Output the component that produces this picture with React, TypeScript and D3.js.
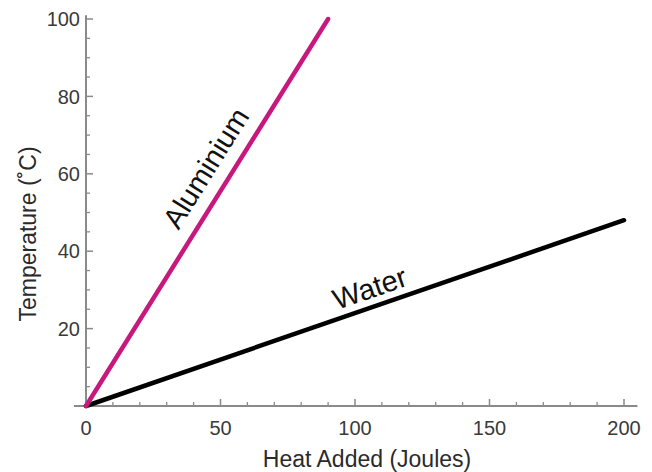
import React from "react";
import * as d3 from "d3";

const W = 652;
const H = 472;

// Data
const aluminiumX = [0, 90];
const aluminiumY = [0, 100];
const waterX = [0, 200];
const waterY = [0, 48];
const xMajorTicks = [0, 50, 100, 150, 200];
const xMinorTicks = [10, 20, 30, 40, 60, 70, 80, 90, 110, 120, 130, 140, 160, 170, 180, 190];
const yMajorTicks = [20, 40, 60, 80, 100];
const yMinorTicks = [5, 10, 15, 25, 30, 35, 45, 50, 55, 65, 70, 75, 85, 90, 95];
const xTitle = "Heat Added (Joules)";
const yTitle = "Temperature (˚C)";

const FONT = "'Liberation Sans', Arial, Helvetica, sans-serif";

export default function App() {
  const x = d3.scaleLinear().domain([0, 200]).range([86, 624]);
  const y = d3.scaleLinear().domain([0, 100]).range([406, 19]);
  const axisColor = "#8a8a8a";
  const tickText = "#3a3a3a";

  const line = d3
    .line<[number, number]>()
    .x((d) => x(d[0]))
    .y((d) => y(d[1]));

  const alData: [number, number][] = aluminiumX.map((v, i) => [v, aluminiumY[i]]);
  const waData: [number, number][] = waterX.map((v, i) => [v, waterY[i]]);

  const angle = (xs: number[], ys: number[]) =>
    (Math.atan2(y(ys[1]) - y(ys[0]), x(xs[1]) - x(xs[0])) * 180) / Math.PI;

  const alAngle = angle(aluminiumX, aluminiumY);
  const waAngle = angle(waterX, waterY);

  const alLabel = { x: x(44.5), y: y(61.5) };
  const waLabel = { x: x(105.5), y: y(30.5) };

  return (
    <svg
      width={W}
      height={H}
      style={{ position: "absolute", left: 0, top: 0, background: "#fff" }}
      fontFamily={FONT}
    >
      {/* axes */}
      <line x1={x(-4.5)} x2={x(205)} y1={y(0)} y2={y(0)} stroke={axisColor} strokeWidth={2} />
      <line x1={x(0)} x2={x(0)} y1={y(0)} y2={y(101)} stroke={axisColor} strokeWidth={2} />
      {xMinorTicks.map((t) => (
        <line key={"xm" + t} x1={x(t)} x2={x(t)} y1={y(0)} y2={y(0) - 4} stroke={axisColor} strokeWidth={1.3} />
      ))}
      {xMajorTicks.map((t) => (
        <line key={"xM" + t} x1={x(t)} x2={x(t)} y1={y(0)} y2={y(0) - 7} stroke={axisColor} strokeWidth={1.5} />
      ))}
      {yMinorTicks.map((t) => (
        <line key={"ym" + t} x1={x(0)} x2={x(0) + 4} y1={y(t)} y2={y(t)} stroke={axisColor} strokeWidth={1.3} />
      ))}
      {yMajorTicks.map((t) => (
        <line key={"yM" + t} x1={x(0)} x2={x(0) + 7} y1={y(t)} y2={y(t)} stroke={axisColor} strokeWidth={1.5} />
      ))}
      {xMajorTicks.map((t) => (
        <text key={"xl" + t} x={x(t)} y={435} textAnchor="middle" fontSize={20} fill={tickText}>
          {t}
        </text>
      ))}
      {yMajorTicks.map((t) => (
        <text key={"yl" + t} x={80} y={y(t)} dy="0.36em" textAnchor="end" fontSize={20} fill={tickText}>
          {t}
        </text>
      ))}
      {/* titles */}
      <text x={367} y={467} textAnchor="middle" fontSize={23} fill="#2a2a2a">
        {xTitle}
      </text>
      <text
        transform={`translate(36,234) rotate(-90)`}
        textAnchor="middle"
        fontSize={23}
        fill="#2a2a2a"
      >
        {yTitle}
      </text>
      {/* lines */}
      <path d={line(waData) ?? ""} fill="none" stroke="#000" strokeWidth={4.5} strokeLinecap="round" />
      <path d={line(alData) ?? ""} fill="none" stroke="#c8187e" strokeWidth={4.5} strokeLinecap="round" />
      {/* labels */}
      <text
        transform={`translate(${alLabel.x},${alLabel.y}) rotate(${alAngle})`}
        textAnchor="middle"
        dy="0.35em"
        fontSize={29}
        fill="#111"
      >
        Aluminium
      </text>
      <text
        transform={`translate(${waLabel.x},${waLabel.y}) rotate(${waAngle})`}
        textAnchor="middle"
        dy="0.35em"
        fontSize={29}
        fill="#111"
      >
        Water
      </text>
    </svg>
  );
}
